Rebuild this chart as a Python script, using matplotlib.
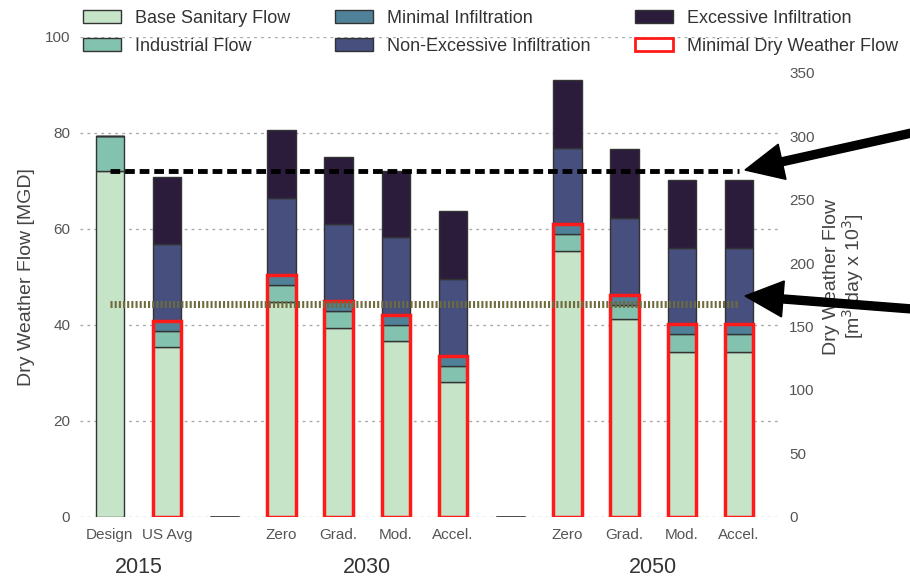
import numpy as np
import matplotlib
matplotlib.use("Agg")
import matplotlib.pyplot as plt
from matplotlib.patches import Patch, FancyArrow

plt.rcParams['font.family'] = ['Liberation Sans', 'DejaVu Sans']

# data (MGD)
categories = ["Design", "US Avg", "", "Zero", "Grad.", "Mod.", "Accel.",
              "", "Zero", "Grad.", "Mod.", "Accel."]
base_sanitary = [72.0, 35.3, 0, 44.8, 39.3, 36.7, 28.1, 0, 55.3, 41.2, 34.4, 34.4]
industrial = [7.3, 3.3, 0, 3.5, 3.5, 3.3, 3.2, 0, 3.6, 2.8, 3.7, 3.7]
minimal_inf = [0, 2.2, 0, 2.1, 2.1, 2.1, 2.2, 0, 2.1, 2.2, 2.0, 2.0]
non_excessive = [0, 16.0, 0, 15.9, 16.1, 16.2, 16.1, 0, 15.7, 16.1, 15.8, 15.8]
excessive = [0, 13.9, 0, 14.2, 13.9, 13.6, 14.0, 0, 14.3, 14.3, 14.3, 14.3]
years = ["2015", "2030", "2050"]
year_centers = [0.5, 4.5, 9.5]
design_line = 72.0
min_dry_line = 44.3
mgd_to_m3 = 3.785  # 10^3 m3/day per MGD

colors = ["#c6e5c8", "#82c2ae", "#4f8299", "#464f7e", "#2c1c3c"]
labels = ["Base Sanitary Flow", "Industrial Flow", "Minimal Infiltration",
          "Non-Excessive Infiltration", "Excessive Infiltration"]
segments = [base_sanitary, industrial, minimal_inf, non_excessive, excessive]

fig = plt.figure(figsize=(9.1, 5.8), dpi=100)
ax = fig.add_axes([0.088, 0.109, 0.767, 0.828])

x = np.arange(len(categories))
w = 0.5
bottom = np.zeros(len(categories))
for vals, col in zip(segments, colors):
    ax.bar(x, vals, w, bottom=bottom, color=col, edgecolor="#333333", linewidth=1, zorder=2)
    bottom = bottom + np.array(vals)

# zero-height placeholders show as a short dark line
gaps = np.array(base_sanitary) == 0
ax.bar(x[gaps], 0, w, color="none", edgecolor="#444444", linewidth=1.8, zorder=2)

# minimal dry weather flow outline
mdwf = np.array(base_sanitary) + np.array(industrial) + np.array(minimal_inf)
has_box = np.array(minimal_inf) > 0
ax.bar(x[has_box], mdwf[has_box], w, color="none", edgecolor="#ff1a1a", linewidth=2.5, zorder=3)

ax.hlines(design_line, x[0], x[-1], colors="black", linewidth=3.5,
          linestyles=(0, (2, 1)), zorder=4)
ax.hlines(min_dry_line, x[0], x[-1], colors="#6e6c3e", linewidth=5,
          linestyles=(0, (0.3, 0.3)), zorder=4)

ax.set_xlim(-0.52, 11.68)
ax.set_ylim(0, 100)
ax.set_yticks([0, 20, 40, 60, 80, 100])
ax.set_xticks(x)
ax.set_xticklabels(categories)
ax.yaxis.grid(True, linestyle=(0, (2, 3)), color="#aaaaaa", linewidth=1, zorder=0)
ax.set_axisbelow(True)
for s in ax.spines.values():
    s.set_visible(False)
ax.tick_params(length=0, labelsize=11, labelcolor="#555555")
ax.tick_params(axis="x", pad=8)
ax.tick_params(axis="y", pad=7)
ax.set_ylabel("Dry Weather Flow [MGD]", fontsize=14, color="#444444", labelpad=7)

for yr, xc in zip(years, year_centers):
    ax.text(xc, -0.105, yr, transform=ax.get_xaxis_transform(), ha="center", va="center",
            fontsize=15.5, color="#333333")

ax2 = ax.twinx()
ax2.set_ylim(0, 100 * mgd_to_m3)
ax2.set_yticks(np.arange(0, 351, 50))
for s in ax2.spines.values():
    s.set_visible(False)
ax2.tick_params(length=0, labelsize=11, labelcolor="#555555", pad=8)
ax2.set_ylabel("Dry Weather Flow\n[m$^3$/day x 10$^3$]", fontsize=14, color="#444444",
               labelpad=6, linespacing=1.0)

handles = [Patch(facecolor=c, edgecolor="#333333", label=l) for c, l in zip(colors, labels)]
handles.append(Patch(facecolor="white", edgecolor="#ff1a1a", linewidth=2, label="Minimal Dry Weather Flow"))
fig.legend(handles=handles, ncol=3, loc="upper left", bbox_to_anchor=(0.085, 0.992), frameon=False,
           fontsize=13, handlelength=2.1, handleheight=0.75, handletextpad=0.8,
           columnspacing=2.45, labelspacing=0.6, borderpad=0.3, borderaxespad=0,
           labelcolor="#333333")

# arrows pointing at the two reference lines
ins = fig.dpi_scale_trans
for tail, tip in [((9.25, 4.50), (7.45, 4.10)), ((9.25, 2.70), (7.45, 2.84))]:
    fig.add_artist(FancyArrow(tail[0], tail[1], tip[0] - tail[0], tip[1] - tail[1],
                              width=0.08, head_width=0.36, head_length=0.38,
                              length_includes_head=True, color="black", transform=ins, zorder=10))

fig.savefig("out.png", dpi=100)
